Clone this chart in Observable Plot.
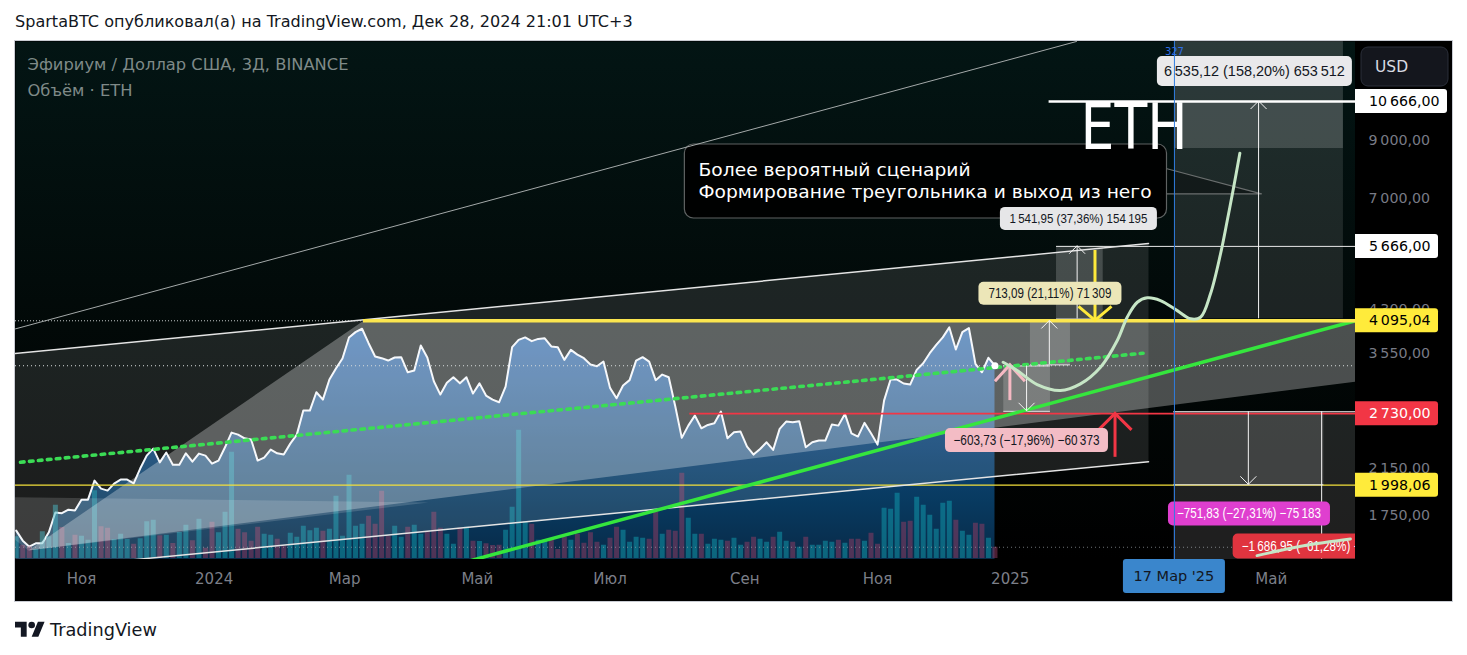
<!DOCTYPE html>
<html lang="ru">
<head>
<meta charset="utf-8">
<title>ETH / USD 3D</title>
<script src="https://cdn.jsdelivr.net/npm/d3@7"></script>
<script src="https://cdn.jsdelivr.net/npm/@observablehq/plot@0.6"></script>
<style>
  html, body { margin: 0; padding: 0; background: #fff; }
  body { width: 1467px; height: 655px; position: relative; overflow: hidden; font-family: "DejaVu Sans", "Noto Sans", sans-serif; }
  #hdr { position: absolute; left: 15px; top: 11px; line-height: 22px; font-size: 15px; color: #131722; white-space: nowrap; }
  #frame { position: absolute; left: 14px; top: 40px; width: 1437px; height: 560px; border: 1px solid #c9ccd3; overflow: hidden; background: #000; }
  #frame svg { position: absolute; left: 0; top: 0; }
  #foot { position: absolute; left: 15px; top: 617px; height: 26px; display: flex; align-items: center; color: #131722; }
  #foot span { font-size: 17px; margin-left: 5px; white-space: nowrap; }
</style>
</head>
<body>
<div id="hdr">SpartaBTC опубликовал(а) на TradingView.com, Дек 28, 2024 21:01 UTC+3</div>
<div id="frame"></div>
<div id="foot"><svg width="30" height="24" viewBox="0 0 36 28"><path d="M14 22H7V11H0V4h14v18zM28 22h-8l7.5-18h8L28 22z" fill="#131722"/><circle cx="20" cy="8" r="4" fill="#131722"/></svg><span id="tvtext">TradingView</span></div>
<script>
// ================= DATA =================
const firstBar = "2023-10-02";           // first 3D bar shown
const closes = [
 1638,1568,1527,1550,1550,1626,1773,1768,1795,1788,
 1875,1875,2038,1968,1951,2011,2047,2047,2014,2148,
 2273,2343,2207,2303,2185,2185,2296,2214,2293,2273,
 2195,2224,2357,2513,2491,2451,2438,2224,2253,2333,
 2296,2283,2395,2491,2767,2767,2997,2903,3168,3324,
 3472,3806,3897,3955,3713,3504,3478,3442,3488,3493,
 3270,3295,3676,3488,3144,2967,3124,3200,3116,3200,
 2980,3116,2954,2903,2869,3072,3649,3768,3808,3746,
 3783,3793,3660,3649,3452,3607,3533,3478,3383,3358,
 3427,3055,2919,3086,3160,3442,3493,3427,3160,3238,
 3200,2820,2456,2591,2707,2561,2599,2617,2755,2451,
 2516,2524,2364,2283,2340,2409,2330,2554,2637,2629,
 2640,2357,2409,2427,2427,2603,2591,2727,2505,2470,
 2622,2505,2385,2890,3168,3168,3114,3099,3305,3401,
 3554,3687,3808,3978,3612,3897,3967,3394,3270,3484,
 3365];
const volumes = [   // thousand ETH
 870,530,470,360,1070,870,2130,1240,600,930,
 890,730,2710,1270,1210,760,970,760,570,790,
 1470,1530,910,930,600,1040,1330,710,1570,410,
 1450,1030,1850,4250,1170,1030,690,1250,970,930,
 770,490,1010,850,1290,1110,1210,1090,1170,2490,
 890,3330,1290,1370,1690,1370,2690,890,1290,850,
 1250,1330,970,1070,1850,1210,970,570,1210,1250,
 690,680,590,520,530,1130,2050,5130,1470,1370,
 730,730,800,360,850,730,970,610,1030,650,
 530,810,1250,1130,650,850,810,770,1850,970,
 1130,1090,3410,1610,970,970,570,770,730,690,
 810,530,650,850,770,650,850,1050,690,650,
 450,850,530,530,690,650,730,610,770,770,
 690,1010,570,2010,1970,2610,1450,1490,2450,2130,
 1730,1170,2210,2290,1530,1090,930,1410,1370,810,
 450];

const monthTicks  = ["2023-11-01","2024-01-01","2024-03-01","2024-05-01","2024-07-01","2024-09-01","2024-11-01","2025-01-01","2025-03-01","2025-05-01"];
const monthLabels = ["Ноя","2024","Мар","Май","Июл","Сен","Ноя","2025","Мар","Май"];
const priceTicks = [9000, 7000, 4300, 3550, 2150, 1750];
const priceTickLabels = ["9\u2009000,00","7\u2009000,00","4\u2009300,00","3\u2009550,00","2\u2009150,00","1\u2009750,00"];
const axisLabelPrices = [10666, 5666, 4095.04, 2730, 1998.06];
const axisLabelTexts  = ["10\u2009666,00","5\u2009666,00","4\u2009095,04","2\u2009730,00","1\u2009998,06"];
const axisLabelKinds  = ["white","white","yellow","red","yellow"];

// drawings: [date, price]
const channelUpper = [["2023-09-25", 3527], ["2025-03-05T14:00", 5737]];
const channelLower = [["2023-09-25", 1364], ["2025-03-05T14:00", 2214]];
const steepLine    = [["2023-10-01T16:00", 3953], ["2025-01-31T11:00", 13860]];
const triangle1    = [["2023-10-07T14:00", 1502], ["2024-03-09T16:00", 4095], ["2026-01-15", 4095]];
const triangle2    = [["2023-09-06T10:00", 1901], ["2024-04-08T12:00", 1852], ["2023-10-07T14:00", 1502]];
const greenTrend   = [["2024-04-27T20:00", 1437], ["2025-06-08T18:00", 4095]];
const greenDotted  = [["2023-10-03T23:00", 2208], ["2025-03-03T02:00", 3554]];
const projection = [
 ["2024-12-28T18:00",3417],["2025-01-04T05:00",3295],["2025-01-13T10:00",3099],["2025-01-24T02:00",3020],
 ["2025-02-02T07:00",3109],["2025-02-11T12:00",3343],["2025-02-19T05:00",3757],["2025-02-23T19:00",4159],
 ["2025-02-28T10:00",4440],["2025-03-05T00:00",4526],["2025-03-11T02:00",4473],["2025-03-18T19:00",4281],
 ["2025-03-24T22:00",4130],["2025-03-29T12:00",4159],["2025-04-03T02:00",4606],["2025-04-07T17:00",5486],
 ["2025-04-10T19:00",6343],["2025-04-13T17:00",7328],["2025-04-16T14:00",8510]];
const strike = [["2025-04-24T12:00",1469],["2025-05-15T22:00",1534],["2025-06-06T10:00",1580]];

const rangeBoxes = [
 {name:"A", from:"2024-12-29T01:00", to:"2025-01-19T12:00", lo:2758, hi:3362},
 {name:"B", from:"2025-01-10T07:00", to:"2025-01-28T17:00", lo:3378, hi:4091},
 {name:"C", from:"2025-01-22T07:00", to:"2025-02-12T18:00", lo:4127, hi:5669},
 {name:"D", from:"2025-03-17T12:00", to:"2025-06-03T05:00", lo:4131, hi:10666},
 {name:"E", from:"2025-03-17T12:00", to:"2025-06-03T05:00", lo:8687, hi:15000},
 {name:"G", from:"2025-03-17T05:00", to:"2025-07-31T14:00", lo:1066, hi:2753},
 {name:"F", from:"2025-03-17T05:00", to:"2025-05-25T05:00", lo:2001, hi:2753}];
const levels = [
 {price:4095.04, from:null, to:"2024-03-09T16:00", kind:"dotted"},
 {price:1998.06, from:null, to:null, kind:"yellowThin"},
 {price:2730, from:"2024-08-06T17:00", to:null, kind:"red"},
 {price:3362, from:"2024-12-29T01:00", to:"2025-01-19T12:00", kind:"white"},
 {price:2758, from:"2024-12-29T01:00", to:"2025-01-19T12:00", kind:"white"},
 {price:3378, from:"2025-01-10T07:00", to:"2025-01-28T17:00", kind:"white"},
 {price:4091, from:"2025-01-10T07:00", to:"2025-01-28T17:00", kind:"white"},
 {price:4127, from:"2025-01-22T07:00", to:"2025-02-12T18:00", kind:"white"},
 {price:2001, from:"2025-03-17T05:00", to:"2025-05-25T05:00", kind:"white"},
 {price:2753, from:"2025-03-17T05:00", to:null, kind:"white"},
 {price:5666, from:"2025-01-22T07:00", to:null, kind:"white"},
 {price:4095.04, from:"2024-03-09T16:00", to:null, kind:"yellowThick"},
 {price:10666, from:"2025-01-18T21:00", to:null, kind:"whiteThick"}];
const measureArrows = [
 {date:"2025-01-08T18:00", from:3362, to:2758},
 {date:"2025-01-19T05:00", from:3378, to:4091},
 {date:"2025-02-01T00:00", from:4127, to:5669},
 {date:"2025-04-25T10:00", from:4131, to:10666},
 {date:"2025-04-20T17:00", from:2753, to:2001},
 {date:"2025-05-24T10:00", from:2753, to:1066}];
const pinkArrow   = [{date:"2025-01-01T02:00", from:2890, to:3372}];
const redArrow    = [{date:"2025-02-18T10:00", from:2256, to:2727}];
const yellowArrow = [{date:"2025-02-09T05:00", from:5565, to:4095}];
const measureLabels = [
 {date:"2025-04-23T12:00", price:12159, text:"6\u2009535,12 (158,20%) 653\u2009512", kind:"grey"},
 {date:"2025-02-01T14:00", price:6389,  text:"1\u2009541,95 (37,36%) 154\u2009195", kind:"greySmall"},
 {date:"2025-01-19T12:00", price:4606,  text:"713,09 (21,11%) 71\u2009309", kind:"beige"},
 {date:"2025-01-08T17:00", price:2427,  text:"\u2212603,73 (\u221217,96%) \u221260\u2009373", kind:"pink"},
 {date:"2025-04-21T00:00", price:1762,  text:"\u2212751,83 (\u221227,31%) \u221275\u2009183", kind:"magenta"},
 {date:"2025-05-24T10:00", price:1529,  text:"\u22121\u2009686,95 (\u221261,28%) \u2212168\u2009695", kind:"red"}];
const calloutBox = [{x1:"2024-08-04T10:00", x2:"2025-03-14T02:00", lo:6400, hi:8840}];
const calloutPointer = [["2025-03-14T02:00",7951],["2025-04-26T12:00",7128],["2025-03-14T02:00",7128]];
const calloutLines = [
 {date:"2024-08-10T17:00", price:7892, text:"Более вероятный сценарий"},
 {date:"2024-08-10T17:00", price:7168, text:"Формирование треугольника и выход из него"}];
const bigText = [{date:"2025-02-26T22:00", price:9467, text:"ETH"}];
const marker = {date:"2025-03-17T12:00", top:"327", bottom:"17 Мар '25"};
const legendLines = ["Эфириум / Доллар США, 3Д, BINANCE", "Объём · ETH"];

// ================= SETUP =================
const FONT = '"DejaVu Sans", "Noto Sans", sans-serif';
const LABEL_FONT = '"Liberation Sans", Arial, "DejaVu Sans", sans-serif';
const W = 1437, H = 560, MR = 97, MB = 42;
const T = s => new Date(s.length === 10 ? s + "T00:00:00Z" : s + ":00Z");
const P = rows => rows.map(([d, p]) => ({date: T(d), price: p}));
const xDomain = [T("2023-10-01T16:00"), T("2025-06-08T18:00")];
const X0 = xDomain[0], X1 = xDomain[1];
const series = closes.map((c, i) => ({date: d3.utcDay.offset(T(firstBar), 3 * i), close: c, vol: volumes[i], up: i === 0 || c >= closes[i - 1]}));
const last = series[series.length - 1];

const common = {width: W, height: H, marginLeft: 0, marginTop: 0, marginRight: MR, marginBottom: MB,
  x: {type: "utc", domain: xDomain, range: [0, W - MR], axis: null}};
const yPrice = {type: "log", domain: [1750, 10666], range: [474, 60], axis: null};

const defsMark = () => {
  const d = d3.create("svg:defs");
  const bg = d.append("linearGradient").attr("id", "bgGrad").attr("x1", 0).attr("y1", 0).attr("x2", 0).attr("y2", 1);
  [["0%", "#031514"], ["55%", "#020908"], ["100%", "#000000"]].forEach(([o, c]) => bg.append("stop").attr("offset", o).attr("stop-color", c));
  const ar = d.append("linearGradient").attr("id", "areaGrad").attr("x1", 0).attr("y1", 0).attr("x2", 0).attr("y2", 1);
  [["0%", "rgb(30,92,165)"], ["75%", "rgb(8,58,96)"], ["100%", "rgb(8,42,72)"]].forEach(([o, c]) => ar.append("stop").attr("offset", o).attr("stop-color", c));
  return d.node();
};

// ---------- layer 1: background + price area ----------
const base = Plot.plot({...common, y: yPrice, style: {background: "#000", fontFamily: FONT}, marks: [
  defsMark,
  Plot.frame({fill: "url(#bgGrad)", stroke: "none"}),
  Plot.areaY(series, {x: "date", y1: () => 1440, y2: "close", fill: "url(#areaGrad)", clip: true}),
  Plot.line(series, {x: "date", y: "close", stroke: "#f2f5f9", strokeWidth: 2, clip: true})
]});

// ---------- layer 2: volume ----------
const volPlot = Plot.plot({...common, y: {domain: [0, 6000], range: [517, 367], axis: null}, style: {background: "transparent"}, marks: [
  Plot.ruleX(series, {x: "date", y1: () => 0, y2: "vol", stroke: d => d.up ? "rgba(16,160,178,0.5)" : "rgba(150,60,100,0.5)", strokeWidth: 5, clip: true}),
  Plot.ruleY([last.vol], {stroke: "#9aa3a8", strokeOpacity: 0.7, strokeDasharray: "1,3"})
]});

// ---------- layer 3: drawings + axes ----------
const boxFill = {A:"rgba(255,255,255,0.18)", B:"rgba(255,255,255,0.18)", C:"rgba(255,255,255,0.18)", D:"rgba(255,255,255,0.11)", E:"rgba(255,255,255,0.16)", F:"rgba(255,255,255,0.15)", G:"rgba(255,255,255,0.12)"};
const levelStyle = {
  dotted: {stroke: "#c4c8c8", strokeWidth: 1, strokeDasharray: "1,2"},
  yellowThin: {stroke: "#f3e03b", strokeWidth: 1.2},
  red: {stroke: "#f23645", strokeWidth: 1.6},
  white: {stroke: "#e8e8e8", strokeWidth: 1},
  yellowThick: {stroke: "#fbe64f", strokeWidth: 3.5},
  whiteThick: {stroke: "#ffffff", strokeWidth: 2.5}};
const labelStyle = {
  grey: {fill: "#e9e9eb", color: "#131722", w: 195, h: 30, size: 14.5, tw: 181},
  greySmall: {fill: "#e6e6e8", color: "#131722", w: 157, h: 23, size: 12, tw: 138},
  beige: {fill: "#ece6b8", color: "#131722", w: 143, h: 23, size: 14, tw: 123},
  pink: {fill: "#f3bcc5", color: "#131722", w: 163, h: 24, size: 14, tw: 146},
  magenta: {fill: "#df3fcf", color: "#ffffff", w: 162, h: 24, size: 14, tw: 144},
  red: {fill: "#e0343f", color: "#ffffff", w: 178, h: 25, size: 14, tw: 160}};
const axisStyle = {white: {fill: "#ffffff", color: "#000000"}, yellow: {fill: "#ffeb3b", color: "#000000"}, red: {fill: "#f23645", color: "#ffffff"}};

function arrowMark(list, st) {
  return (index, scales) => {
    const g = d3.create("svg:g").attr("stroke", st.stroke).attr("stroke-width", st.width).attr("fill", "none");
    for (const a of list) {
      const x = scales.x(T(a.date)), y1 = scales.y(a.from), y2 = scales.y(a.to);
      const dir = y2 < y1 ? 1 : -1;
      g.append("line").attr("x1", x).attr("x2", x).attr("y1", y1).attr("y2", y2);
      g.append("path").attr("d", `M${x - st.wing},${y2 + dir * st.back}L${x},${y2}L${x + st.wing},${y2 + dir * st.back}`);
    }
    return g.node();
  };
}
const boxedLabels = (index, scales) => {
  const g = d3.create("svg:g").attr("font-family", LABEL_FONT);
  for (const it of measureLabels) {
    const st = labelStyle[it.kind];
    const cx = scales.x(T(it.date)), cy = scales.y(it.price);
    g.append("rect").attr("x", cx - st.w / 2).attr("y", cy - st.h / 2).attr("width", st.w).attr("height", st.h).attr("rx", 5).attr("fill", st.fill);
    g.append("text").attr("x", cx).attr("y", cy).attr("dy", "0.36em").attr("text-anchor", "middle")
      .attr("font-size", st.size).attr("fill", st.color).attr("textLength", st.tw).attr("lengthAdjust", "spacingAndGlyphs").text(it.text);
  }
  return g.node();
};
const bands = (index, scales, values, dims) => {
  const g = d3.create("svg:g").attr("fill", "#000");
  const fr = dims.width - dims.marginRight, fb = dims.height - dims.marginBottom;
  g.append("rect").attr("x", fr).attr("y", 0).attr("width", dims.marginRight).attr("height", dims.height);
  g.append("rect").attr("x", 0).attr("y", fb).attr("width", dims.width).attr("height", dims.marginBottom);
  return g.node();
};
const axisBoxes = (index, scales, values, dims) => {
  const g = d3.create("svg:g").attr("font-family", FONT).attr("text-anchor", "start");
  const fr = dims.width - dims.marginRight;
  axisLabelPrices.forEach((p, i) => {
    const st = axisStyle[axisLabelKinds[i]], txt = axisLabelTexts[i];
    const y = scales.y(p), w = txt.length >= 9 ? 92 : 83, h = 24, r = 3;
    g.append("path").attr("d", `M${fr},${y - h / 2}h${w - r}a${r},${r} 0 0 1 ${r},${r}v${h - 2 * r}a${r},${r} 0 0 1 ${-r},${r}h${-(w - r)}z`).attr("fill", st.fill);
    g.append("text").attr("x", fr + 14).attr("y", y).attr("dy", "0.36em").attr("text-anchor", "start").attr("font-size", 14.2).attr("fill", st.color).text(txt);
  });
  g.append("rect").attr("x", fr + 6).attr("y", 6).attr("width", 87).attr("height", 39).attr("rx", 7).attr("fill", "#14161d").attr("stroke", "#2b2f3a");
  g.append("text").attr("x", fr + 20).attr("y", 25.5).attr("dy", "0.36em").attr("text-anchor", "start").attr("font-size", 15.5).attr("fill", "#d8dbe2").text("USD");
  return g.node();
};
const markerBox = (index, scales, values, dims) => {
  const g = d3.create("svg:g").attr("font-family", FONT);
  const x = scales.x(T(marker.date)), fb = dims.height - dims.marginBottom;
  g.append("rect").attr("x", x - 51).attr("y", fb).attr("width", 102).attr("height", 34).attr("rx", 3).attr("fill", "#3a86cc");
  g.append("text").attr("x", x).attr("y", fb + 17).attr("dy", "0.36em").attr("text-anchor", "middle").attr("font-size", 14.5).attr("fill", "#131722").text(marker.bottom);
  return g.node();
};

const poly = fill => ({x: "date", y: "price", fill, stroke: "none", clip: true});
const seg = (stroke, strokeWidth, extra = {}) => ({x: "date", y: "price", stroke, strokeWidth, clip: true, ...extra});

const draw = Plot.plot({...common, y: yPrice, style: {background: "transparent", fontFamily: FONT}, marks: [
  Plot.line(P([...channelUpper, ...channelLower.slice().reverse()]), poly("rgba(255,255,255,0.11)")),
  Plot.line(P(triangle1), poly("rgba(255,255,255,0.29)")),
  Plot.line(P(triangle2), poly("rgba(255,255,255,0.15)")),
  Plot.rect(rangeBoxes, {x1: d => T(d.from), x2: d => T(d.to), y1: "lo", y2: "hi", fill: d => boxFill[d.name], clip: true}),
  Plot.rect(calloutBox, {x1: d => T(d.x1), x2: d => T(d.x2), y1: "lo", y2: "hi", rx: 9, fill: "#000", fillOpacity: 0.92, stroke: "#5f6363", strokeWidth: 1.2}),
  Plot.line(P(calloutPointer), {x: "date", y: "price", fill: "#000", fillOpacity: 0.35, stroke: "#6a6e6e", strokeWidth: 1.2}),
  Plot.ruleY([last.close], {stroke: "#d8dcdc", strokeDasharray: "1,3", strokeWidth: 1}),
  ...Object.entries(levelStyle).filter(([k]) => k !== "yellowThick" && k !== "whiteThick").map(([k, st]) =>
    Plot.ruleY(levels.filter(l => l.kind === k), {y: "price", x1: d => d.from ? T(d.from) : X0, x2: d => d.to ? T(d.to) : X1, ...st, clip: true})),
  Plot.line(P(channelUpper), seg("#e4e4e4", 1.5)),
  Plot.line(P(channelLower), seg("#e4e4e4", 1.5)),
  Plot.line(P(steepLine), seg("#a4a9a9", 1)),
  Plot.line(P(greenDotted), seg("#3bdc55", 3.6, {strokeDasharray: "3.6,5.4"})),
  Plot.line(P(greenTrend), seg("#35e63d", 3.5)),
  ...["yellowThick", "whiteThick"].map(k =>
    Plot.ruleY(levels.filter(l => l.kind === k), {y: "price", x1: d => d.from ? T(d.from) : X0, x2: d => d.to ? T(d.to) : X1, ...levelStyle[k], clip: true})),
  arrowMark(measureArrows, {stroke: "#f4f4f4", width: 1, wing: 8, back: 8}),
  arrowMark(pinkArrow, {stroke: "#f6b9c3", width: 3, wing: 15, back: 16.5}),
  arrowMark(redArrow, {stroke: "#f23645", width: 3, wing: 16.5, back: 16.5}),
  arrowMark(yellowArrow, {stroke: "#ffe93b", width: 3, wing: 16.5, back: 14}),
  Plot.line(P(projection), seg("#c6e6c6", 3, {curve: "catmull-rom"})),
  Plot.dot([last], {x: "date", y: "close", r: 3.5, fill: "#ffffff"}),
  Plot.text(calloutLines, {x: d => T(d.date), y: "price", text: "text", fill: "#ffffff", fontSize: 18.5, textAnchor: "start", lineAnchor: "middle"}),
  boxedLabels,
  Plot.line(P(strike), seg("#c6e6c6", 3, {curve: "catmull-rom"})),
  Plot.text(bigText, {x: d => T(d.date), y: "price", text: "text", fill: "#ffffff", fontSize: 64, textAnchor: "middle", lineAnchor: "middle"}),
  Plot.text([legendLines[0]], {text: d => d, frameAnchor: "top-left", dx: 12, dy: 23, textAnchor: "start", lineAnchor: "middle", fill: "#7f8a88", fontSize: 16.5}),
  Plot.text([legendLines[1]], {text: d => d, frameAnchor: "top-left", dx: 12, dy: 49, textAnchor: "start", lineAnchor: "middle", fill: "#7f8a88", fontSize: 16.5}),
  Plot.ruleX([marker], {x: d => T(d.date), stroke: "#2f7de1", strokeWidth: 1}),
  Plot.text([marker], {x: d => T(d.date), text: d => d.top, frameAnchor: "top", dy: 10, fill: "#2f6fe6", fontSize: 10, lineAnchor: "middle"}),
  bands,
  Plot.text(priceTicks, {y: d => d, text: (d, i) => priceTickLabels[i], frameAnchor: "right", dx: 13, textAnchor: "start", lineAnchor: "middle", fill: "#787b86", fontSize: 14.2}),
  axisBoxes,
  Plot.text(monthTicks, {x: d => T(d), text: (d, i) => monthLabels[i], frameAnchor: "bottom", dy: 20, lineAnchor: "middle", fill: "#7c7f88", fontSize: 15}),
  markerBox
]});

const frame = document.getElementById("frame");
frame.append(base, volPlot, draw);

// width fitting of a few texts (layout only)
d3.select(draw).selectAll("text").each(function () {
  const t = this.textContent;
  const fit = {"ETH": 107, "Формирование треугольника и выход из него": 453, "Более вероятный сценарий": 272, "Эфириум / Доллар США, 3Д, BINANCE": 321, "Объём · ETH": 105}[t];
  if (fit) d3.select(this).attr("textLength", fit).attr("lengthAdjust", "spacingAndGlyphs");
});
const hdr = document.getElementById("hdr");
hdr.style.fontSize = (15 * 618 / hdr.getBoundingClientRect().width) + "px";
const tv = document.getElementById("tvtext");
tv.style.fontSize = (17 * 107 / tv.getBoundingClientRect().width) + "px";
</script>
</body>
</html>
